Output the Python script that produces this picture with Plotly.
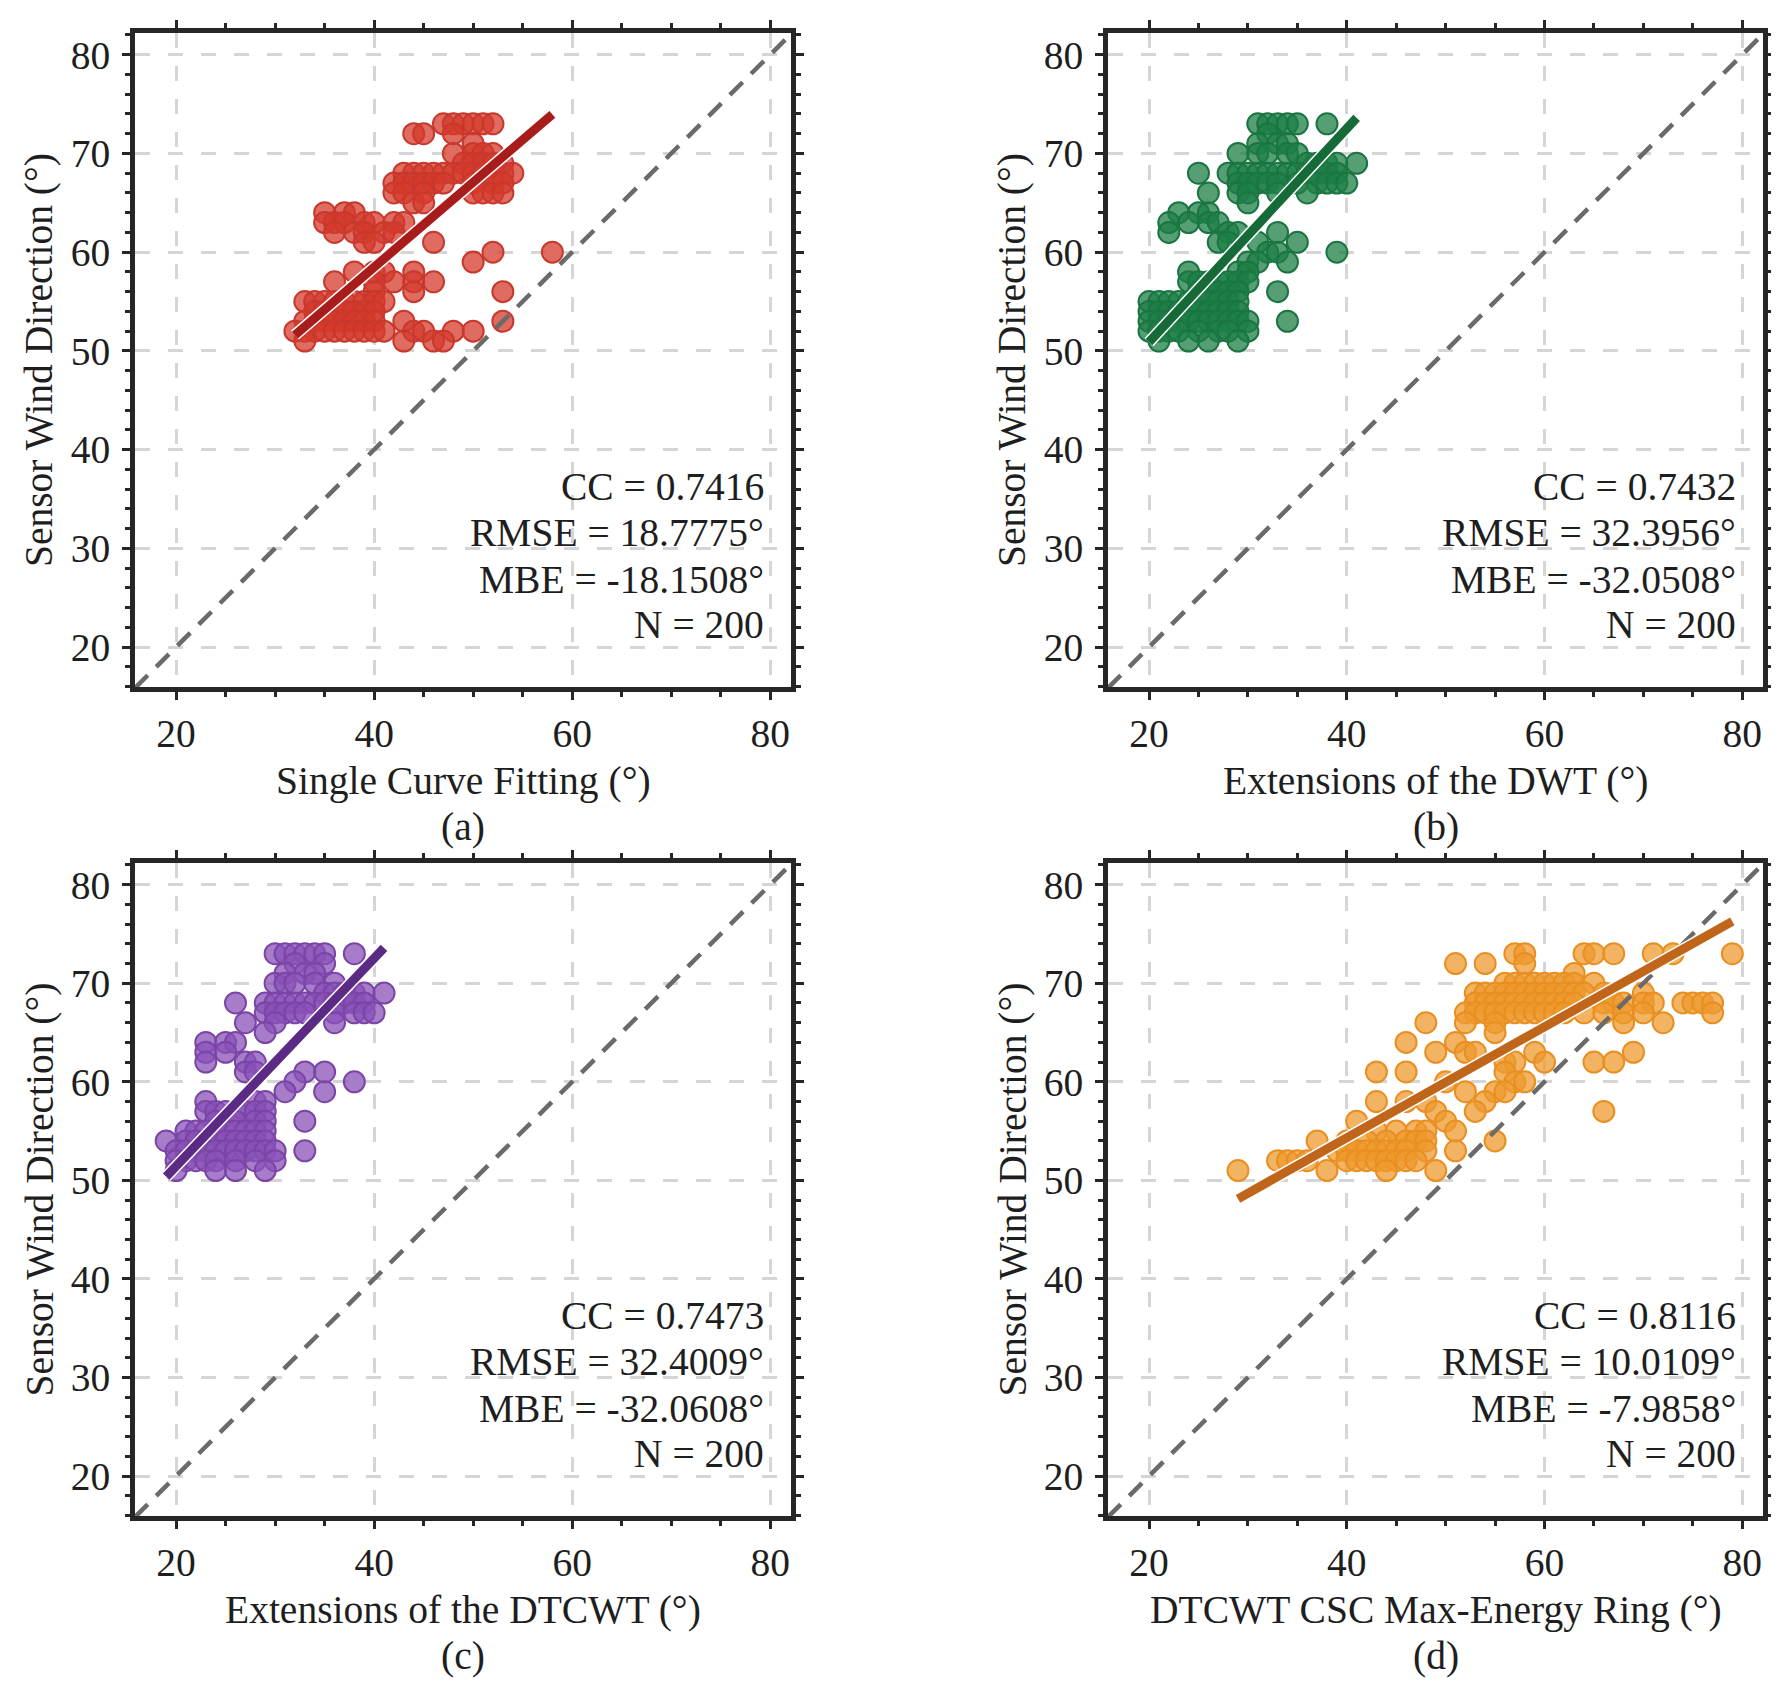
import plotly.graph_objects as go

# ---- data: {sensor wind direction: [estimated direction values]} ----
a_rows = {
    73: [47, 48, 49, 50, 51, 52],
    72: [44, 45, 48],
    71: [50],
    70: [48, 50, 51, 52],
    69: [49, 50, 51, 52, 53],
    68: [43, 44, 45, 46, 47, 48, 49, 50, 51, 52, 53, 54],
    67: [42, 43, 44, 45, 46, 47, 50, 52, 53],
    66: [42, 43, 45, 50, 51, 52, 53],
    65: [44, 45],
    64: [35, 37, 38],
    63: [35, 36, 37, 39, 40, 42, 43],
    62: [36, 38, 39, 41, 42],
    61: [39, 40, 46],
    60: [52, 58],
    59: [50],
    58: [38, 40, 41, 44],
    57: [36, 40, 42, 44, 46],
    56: [40, 44, 53],
    55: [33, 34, 35, 36, 37, 38, 39, 40, 41],
    54: [34, 35, 36, 37, 38, 39, 40],
    53: [33, 34, 35, 36, 37, 38, 39, 40, 43, 53],
    52: [32, 33, 34, 35, 36, 37, 38, 39, 40, 41, 44, 45, 48, 50],
    51: [33, 43, 46, 47],
}
b_rows = {
    73: [31, 32, 33, 34, 35, 38],
    72: [32],
    71: [31, 33, 34],
    70: [29, 31, 32, 34, 35],
    69: [36, 37, 38, 39, 41],
    68: [25, 28, 29, 30, 31, 32, 33, 34, 35, 36, 37, 38, 39],
    67: [29, 30, 31, 32, 33, 35, 37, 38, 39, 40],
    66: [26, 29, 30, 33, 36],
    65: [30],
    64: [23, 25, 26],
    63: [22, 24, 26, 27],
    62: [22, 28, 29, 33],
    61: [27, 28, 31, 35],
    60: [32, 33, 39],
    59: [30, 31, 34],
    58: [24, 29, 30],
    57: [24, 25, 26, 27, 28, 29, 30],
    56: [25, 26, 27, 28, 29, 33],
    55: [20, 21, 22, 23, 24, 25, 26, 27, 28, 29],
    54: [20, 21, 22, 23, 24, 25, 26, 27, 28, 29],
    53: [20, 21, 22, 23, 24, 25, 26, 27, 28, 29, 30, 34],
    52: [20, 21, 22, 23, 25, 27, 28, 30],
    51: [21, 24, 26, 29],
}
c_rows = {
    73: [30, 31, 32, 33, 34, 35, 38],
    72: [32, 35],
    71: [31, 33, 34],
    70: [30, 31, 32, 34, 36],
    69: [35, 36, 37, 38, 39, 41],
    68: [26, 29, 30, 31, 32, 33, 34, 35, 36, 37, 38, 39],
    67: [29, 30, 31, 32, 33, 36, 38, 39, 40],
    66: [27, 30, 36],
    65: [29],
    64: [23, 25, 26],
    63: [23, 25],
    62: [23, 27, 28],
    61: [27, 28, 33, 35],
    60: [32, 38],
    59: [31, 35],
    58: [23, 28, 29],
    57: [23, 24, 25, 26, 27, 28, 29],
    56: [24, 26, 28, 29, 33],
    55: [21, 22, 23, 24, 25, 26, 27, 28, 29],
    54: [19, 21, 22, 23, 24, 25, 26, 27, 28, 29],
    53: [20, 21, 22, 23, 24, 25, 26, 27, 28, 29, 30, 33],
    52: [20, 21, 22, 23, 24, 26, 28, 30],
    51: [20, 24, 26, 29],
}
d_rows = {
    73: [57, 58, 64, 65, 67, 71, 73, 79],
    72: [51, 54, 58],
    71: [63],
    70: [56, 57, 58, 59, 60, 61, 62, 63, 65],
    69: [53, 54, 55, 56, 57, 58, 59, 60, 61, 62, 63, 64, 66, 70],
    68: [53, 54, 55, 56, 57, 58, 59, 60, 61, 62, 63, 66, 67, 68, 70, 71, 74, 75, 76, 77],
    67: [52, 53, 54, 55, 56, 57, 58, 59, 60, 61, 62, 64, 66, 68, 70, 77],
    66: [48, 52, 55, 68, 72],
    65: [55],
    64: [46, 51],
    63: [49, 52, 53, 59, 69],
    62: [56, 57, 60, 65, 67],
    61: [43, 46, 56],
    60: [50, 57, 58],
    59: [52, 55, 56],
    58: [43, 46, 48, 54],
    57: [49, 53, 66],
    56: [41, 50],
    55: [43, 45, 47, 48, 51],
    54: [37, 40, 42, 44, 46, 47, 48, 55],
    53: [39, 40, 41, 42, 43, 44, 45, 46, 48, 51],
    52: [33, 34, 35, 36, 40, 41, 42, 43, 44, 45, 46, 47],
    51: [29, 38, 44, 49],
}

# fitted lines (slope, intercept) and statistics as printed in each panel
fit_slope = [0.86, 1.082, 1.055, 0.563]
fit_intercept = [24.08, 29.24, 30.34, 31.8]
cc = ["0.7416", "0.7432", "0.7473", "0.8116"]
rmse = ["18.7775", "32.3956", "32.4009", "10.0109"]
mbe = ["-18.1508", "-32.0508", "-32.0608", "-7.9858"]
n_obs = [200, 200, 200, 200]

x_titles = ["Single Curve Fitting (°)", "Extensions of the DWT (°)",
            "Extensions of the DTCWT (°)", "DTCWT CSC Max-Energy Ring (°)"]
letters = ["(a)", "(b)", "(c)", "(d)"]

fill_colors = ["rgba(212,58,44,0.75)", "rgba(30,127,71,0.75)",
               "rgba(138,82,184,0.75)", "rgba(238,154,46,0.75)"]
edge_colors = ["#c8382c", "#1a7541", "#7a45a6", "#e98f22"]
fit_colors = ["#a81c1c", "#166a38", "#5b2a85", "#c0661b"]

W, H = 1779, 1686
FONT = "Liberation Serif, Times New Roman, serif"
FS = 39.5
INK = "#1e1e1e"
AX = "#262626"
XR = [15.85, 82.1]
YR = [15.95, 82.2]

# panel boxes in pixels: left, right, top, bottom
boxes = [(127, 783, 25, 679), (1100, 1755, 25, 679),
         (127, 783, 855, 1508), (1100, 1755, 855, 1508)]

fig = go.Figure()
annotations = []

for i, rows in enumerate([a_rows, b_rows, c_rows, d_rows]):
    sfx = "" if i == 0 else str(i + 1)
    xa, ya = "x" + sfx, "y" + sfx
    xs, ys = [], []
    for yv, xlist in rows.items():
        xs += xlist
        ys += [yv] * len(xlist)

    fig.add_trace(go.Scatter(
        x=xs, y=ys, mode="markers", xaxis=xa, yaxis=ya, showlegend=False,
        marker=dict(size=21, color=fill_colors[i],
                    line=dict(color=edge_colors[i], width=2))))

    # 1:1 reference line
    fig.add_trace(go.Scatter(
        x=[XR[0], XR[1]], y=[XR[0], XR[1]], mode="lines", xaxis=xa, yaxis=ya,
        showlegend=False, hoverinfo="skip",
        line=dict(color="#6a6a6a", width=4.5, dash="18px,12px")))

    # fitted line with thin white halo
    fx = [min(xs), max(xs)]
    fy = [fit_slope[i] * v + fit_intercept[i] for v in fx]
    fig.add_trace(go.Scatter(x=fx, y=fy, mode="lines", xaxis=xa, yaxis=ya,
                             showlegend=False, hoverinfo="skip",
                             line=dict(color="white", width=12)))
    fig.add_trace(go.Scatter(x=fx, y=fy, mode="lines", xaxis=xa, yaxis=ya,
                             showlegend=False, hoverinfo="skip",
                             line=dict(color=fit_colors[i], width=9)))

    l, r, t, b = boxes[i]
    common = dict(showline=True, linewidth=4.5, linecolor=AX, mirror="allticks",
                  ticks="outside", ticklen=8, tickwidth=3, tickcolor=AX,
                  zeroline=False, showgrid=True, gridcolor="#d5d5d5",
                  gridwidth=3, griddash="15px,18px",
                  tickfont=dict(family=FONT, size=FS, color=INK))
    fig.layout["xaxis" + sfx] = dict(
        domain=[l / W, r / W], anchor=ya, range=XR, tick0=20, dtick=20,
        minor=dict(tick0=0, dtick=5, ticks="outside", ticklen=5, tickwidth=2.5,
                   tickcolor=AX, showgrid=False), **common)
    fig.layout["yaxis" + sfx] = dict(
        domain=[1 - b / H, 1 - t / H], anchor=xa, range=YR, tick0=20, dtick=10,
        ticklabelstandoff=4,
        minor=dict(tick0=0, dtick=2, ticks="outside", ticklen=5, tickwidth=2.5,
                   tickcolor=AX, showgrid=False), **common)

    cx = (l + r) / 2 / W
    annotations.append(dict(text=x_titles[i], x=cx, y=1 - (b + 94) / H,
                            xref="paper", yref="paper", showarrow=False,
                            xanchor="center", yanchor="middle"))
    annotations.append(dict(text=letters[i], x=cx, y=1 - (b + 140) / H,
                            xref="paper", yref="paper", showarrow=False,
                            xanchor="center", yanchor="middle"))
    annotations.append(dict(text="Sensor Wind Direction (°)", textangle=-90,
                            x=(l - 96) / W, y=1 - (t + b) / 2 / H,
                            xref="paper", yref="paper", showarrow=False,
                            xanchor="center", yanchor="middle"))
    stats = [f"CC = {cc[i]}", f"RMSE = {rmse[i]}°", f"MBE = {mbe[i]}°",
             f"N = {n_obs[i]}"]
    for txt, yy in zip(stats, [0.306, 0.2355, 0.1636, 0.0948]):
        annotations.append(dict(text=txt, x=0.962, y=yy,
                                xref=xa + " domain", yref=ya + " domain",
                                showarrow=False, xanchor="right",
                                yanchor="middle"))

fig.update_layout(
    width=W, height=H,
    margin=dict(l=0, r=0, t=0, b=0),
    paper_bgcolor="white", plot_bgcolor="white",
    font=dict(family=FONT, size=FS, color=INK),
    annotations=annotations,
)

fig.write_html("out.html")
